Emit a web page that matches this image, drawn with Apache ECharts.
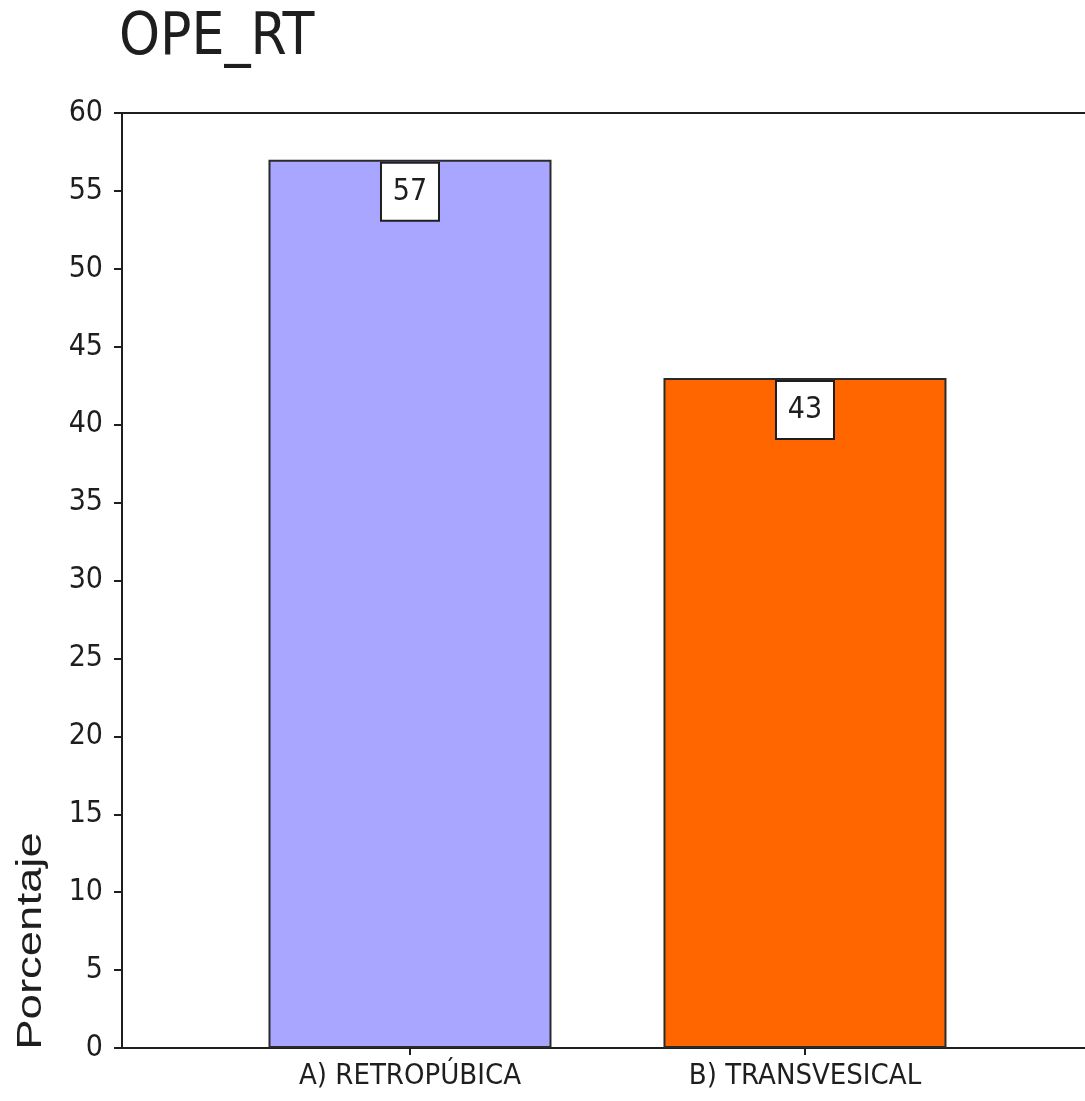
<!DOCTYPE html>
<html>
<head>
<meta charset="utf-8">
<script src="https://cdn.jsdelivr.net/npm/echarts@6/dist/echarts.min.js"></script>
<style>
  html, body { margin: 0; padding: 0; background: #fff; }
  #chart { width: 1085px; height: 1101px; }
</style>
</head>
<body>
<div id="chart"></div>
<script>
// Surgical approach share (percent)
const categories = ['A) RETROPÚBICA', 'B) TRANSVESICAL'];
const percentages = [57, 43];
const yTicks = [0, 5, 10, 15, 20, 25, 30, 35, 40, 45, 50, 55, 60];

const barColors = ['#A8A6FF', '#FF6600'];
const FONT = "'Liberation Sans Narrow', 'Arial Narrow', 'DejaVu Sans Condensed', 'Liberation Sans', sans-serif";
const INK = '#1e1e1e';

// categories sit at positions 1, 2 on a linear x scale
const positions = categories.map((_, i) => i + 1);
const xMin = 0.2709, xMax = 2.7089;

const chart = echarts.init(document.getElementById('chart'));
chart.setOption({
  backgroundColor: '#fff',
  animation: false,
  title: {
    text: 'OPE_RT',
    left: 114, top: 5,
    textStyle: { fontFamily: FONT, fontSize: 58, fontWeight: 'normal', color: INK }
  },
  grid: { left: 122, right: 0, top: 113, bottom: 53, containLabel: false },
  xAxis: [{
    type: 'value', min: xMin, max: xMax, position: 'bottom',
    splitLine: { show: false },
    axisLine: { show: true, lineStyle: { color: INK, width: 2 } },
    axisTick: { show: true, customValues: positions, length: 7, lineStyle: { color: INK, width: 2 } },
    axisLabel: {
      customValues: positions, margin: 14,
      formatter: v => categories[Math.round(v) - 1] || '',
      fontFamily: FONT, fontSize: 29, color: INK
    }
  }, {
    type: 'value', min: xMin, max: xMax, position: 'top',
    splitLine: { show: false },
    axisLine: { show: true, lineStyle: { color: INK, width: 2 } },
    axisTick: { show: false }, axisLabel: { show: false }
  }],
  yAxis: {
    type: 'value', min: yTicks[0], max: yTicks[yTicks.length - 1], interval: yTicks[1] - yTicks[0],
    splitLine: { show: false },
    axisLine: { show: true, lineStyle: { color: INK, width: 2 } },
    axisTick: { show: true, length: 8, lineStyle: { color: INK, width: 2 } },
    axisLabel: { margin: 19, fontFamily: FONT, fontSize: 30, color: INK }
  },
  graphic: [{
    type: 'text',
    x: 14, y: 941,
    rotation: Math.PI / 2,
    scaleX: 1.3,
    style: {
      text: 'Porcentaje',
      fontFamily: "'Liberation Sans', Arial, sans-serif",
      fontSize: 35,
      fill: INK,
      align: 'center',
      verticalAlign: 'top'
    }
  }],
  series: [{
    type: 'bar',
    xAxisIndex: 0,
    barWidth: 283,
    data: percentages.map((v, i) => ({
      value: [positions[i], v],
      itemStyle: { color: barColors[i] }
    })),
    itemStyle: { borderColor: '#2a2a2a', borderWidth: 2 },
    label: {
      show: true,
      position: 'insideTop',
      distance: 4,
      formatter: p => String(Math.round(p.value[1])),
      fontFamily: FONT, fontSize: 30, color: INK,
      backgroundColor: '#fff',
      borderColor: INK, borderWidth: 2,
      width: 56, height: 56, lineHeight: 56,
      padding: 0
    }
  }]
});
</script>
</body>
</html>
